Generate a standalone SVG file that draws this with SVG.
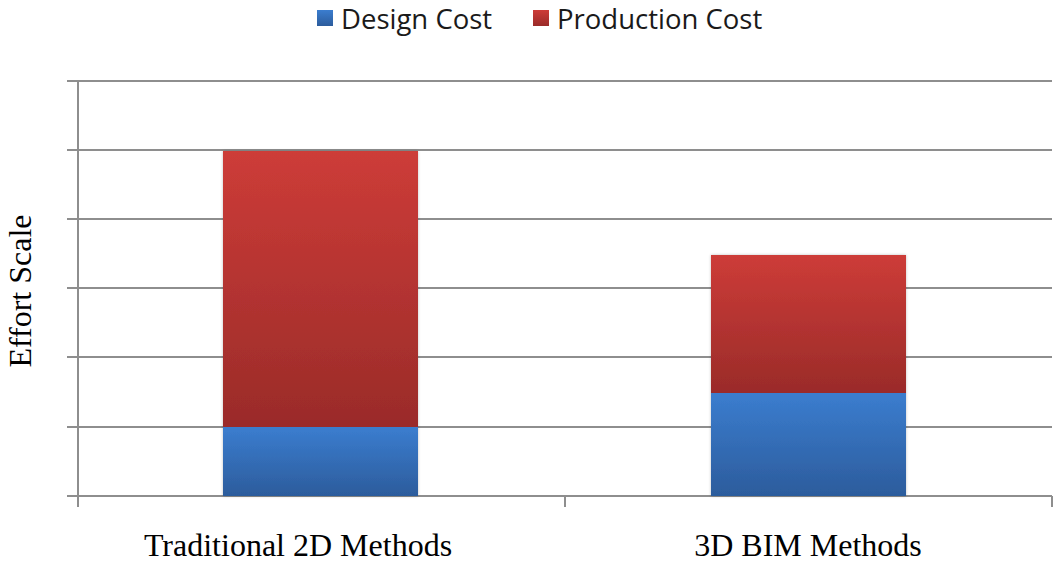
<svg xmlns="http://www.w3.org/2000/svg" width="1054" height="562" viewBox="0 0 1054 562">
  <defs>
    <linearGradient id="gRed" x1="0" y1="0" x2="0" y2="1">
      <stop offset="0" stop-color="#cd3c38"/>
      <stop offset="1" stop-color="#9a2b29"/>
    </linearGradient>
    <linearGradient id="gBlue" x1="0" y1="0" x2="0" y2="1">
      <stop offset="0" stop-color="#3b7dcf"/>
      <stop offset="1" stop-color="#2c5c9c"/>
    </linearGradient>
    <filter id="shadow" x="-5%" y="-5%" width="110%" height="110%">
      <feGaussianBlur in="SourceAlpha" stdDeviation="1.5"/>
      <feComponentTransfer><feFuncA type="linear" slope="0.25"/></feComponentTransfer>
      <feMerge><feMergeNode/><feMergeNode in="SourceGraphic"/></feMerge>
    </filter>
  </defs>
  <style>
    .grid { stroke: #8e8e8e; stroke-width: 2; fill: none; }
    .legend { font-family: "Open Sans", "Noto Sans", sans-serif; font-size: 27.5px; fill: #1a1a1a; }
    .cat { font-family: "Liberation Serif", "Times New Roman", serif; font-size: 32px; fill: #000; text-anchor: middle; }
  </style>
  <rect width="1054" height="562" fill="#ffffff"/>

  <!-- gridlines, axes and ticks -->
  <g id="axes" class="grid">
    <line x1="67" y1="81" x2="1052" y2="81"/>
    <line x1="67" y1="150" x2="1052" y2="150"/>
    <line x1="67" y1="219" x2="1052" y2="219"/>
    <line x1="67" y1="288" x2="1052" y2="288"/>
    <line x1="67" y1="357" x2="1052" y2="357"/>
    <line x1="67" y1="427" x2="1052" y2="427"/>
    <line x1="67" y1="496" x2="1052" y2="496"/>
    <line x1="78" y1="81" x2="78" y2="507"/>
    <line x1="565" y1="496" x2="565" y2="507"/>
    <line x1="1052" y1="496" x2="1052" y2="507"/>
  </g>

  <!-- stacked bars -->
  <g id="bar-traditional" filter="url(#shadow)">
    <rect x="223" y="151" width="195" height="276" fill="url(#gRed)"/>
    <rect x="223" y="427" width="195" height="69" fill="url(#gBlue)"/>
  </g>
  <g id="bar-bim" filter="url(#shadow)">
    <rect x="711" y="255" width="195" height="138" fill="url(#gRed)"/>
    <rect x="711" y="393" width="195" height="103" fill="url(#gBlue)"/>
  </g>

  <!-- legend -->
  <g id="legend">
    <rect x="317" y="10" width="16" height="16" fill="url(#gBlue)"/>
    <text class="legend" x="341" y="29">Design Cost</text>
    <rect x="533" y="10" width="16" height="16" fill="url(#gRed)"/>
    <text class="legend" x="557" y="29">Production Cost</text>
  </g>

  <!-- labels -->
  <g id="labels">
    <text class="cat" x="298" y="556">Traditional 2D Methods</text>
    <text class="cat" x="808" y="556">3D BIM Methods</text>
    <text class="cat" transform="translate(31 291) rotate(-90)">Effort Scale</text>
  </g>
</svg>
